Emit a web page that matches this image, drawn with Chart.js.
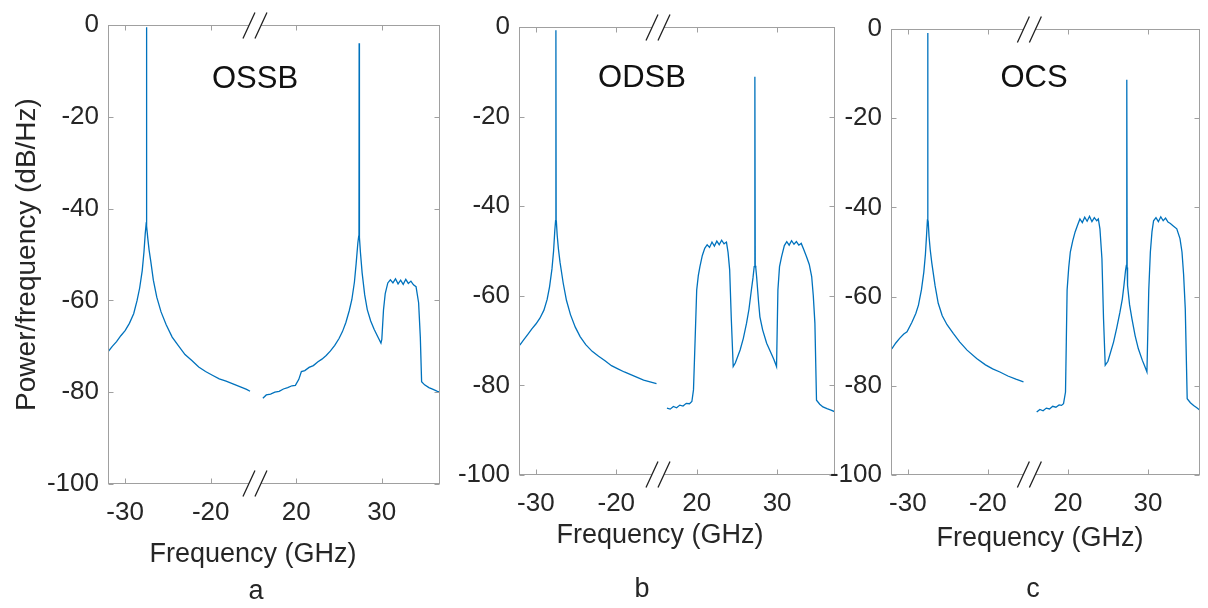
<!DOCTYPE html>
<html>
<head>
<meta charset="UTF-8">
<title>OSSB / ODSB / OCS spectra</title>
<script src="https://cdn.jsdelivr.net/npm/chart.js"></script>
<style>
  body { margin: 0; background: #fff; font-family: "Liberation Sans", Arial, sans-serif; }
  #wrap { position: relative; width: 1208px; height: 608px; overflow: hidden; background: #fff; }
  canvas { position: absolute; left: 0; top: 0; }
  .lbl { position: absolute; transform: translateX(-50%); white-space: nowrap; line-height: 1; color: #262626; }
  .name { color: #111; font-size: 31px; }
  .xt { font-size: 27px; }
</style>
</head>
<body>
<div id="wrap">
  <canvas id="chartA" width="1208" height="608"></canvas>
  <canvas id="chartB" width="1208" height="608"></canvas>
  <canvas id="chartC" width="1208" height="608"></canvas>

  <div class="lbl name" style="left:255px; top:62px;">OSSB</div>
  <div class="lbl name" style="left:642px; top:61px;">ODSB</div>
  <div class="lbl name" style="left:1034px; top:61px;">OCS</div>

  <div class="lbl xt" style="left:253px; top:540px;">Frequency (GHz)</div>
  <div class="lbl xt" style="left:660px; top:521px;">Frequency (GHz)</div>
  <div class="lbl xt" style="left:1040px; top:524px;">Frequency (GHz)</div>

  <div class="lbl xt" style="left:256px; top:577px;">a</div>
  <div class="lbl xt" style="left:642px; top:575px;">b</div>
  <div class="lbl xt" style="left:1033px; top:575px;">c</div>
</div>

<script>
// x tick labels (GHz) and y ticks (dB/Hz)
const xTickFreqs = [-30, -20, 20, 30];
const yTicks = [0, -20, -40, -60, -80, -100];

// OSSB spectrum, negative side and positive side
const ossbLeftF = [-32, -31.5, -31, -30.5, -30, -29.5, -29, -28.6, -28.3, -28.0, -27.8, -27.65, -27.55, -27.52, -27.5, -27.48,
  -27.45, -27.35, -27.2, -27.0, -26.7, -26.3, -25.8, -25.2, -24.5, -23.8, -23, -22.2, -21.4, -20.6, -19.8, -19, -18.2, -17.4, -16.6, -15.8, -15.4];
const ossbLeftP = [-71.2, -70.0, -69.0, -67.7, -66.6, -65.0, -62.9, -60.0, -57.3, -53.5, -49.5, -45.5, -43.5, -43.3, -0.5, -43.5,
  -43.8, -46.5, -49.0, -51.5, -55.6, -59.3, -62.5, -65.3, -68.0, -69.8, -71.8, -73.1, -74.5, -75.5, -76.3, -77.1, -77.6, -78.2, -78.8, -79.4, -79.8];
const ossbRightF = [16.1, 16.5, 17, 17.5, 18, 18.5, 19, 19.5, 19.9, 20.3, 20.6, 21, 21.5, 22, 22.5, 23, 23.5, 24, 24.5, 25, 25.4, 25.8,
  26.2, 26.5, 26.8, 27.0, 27.2, 27.3, 27.33, 27.35, 27.37, 27.4, 27.5, 27.7, 28.0, 28.3, 28.7, 29.1, 29.5, 29.9, 30.0, 30.2, 30.4, 30.7,
  31, 31.3, 31.6, 31.9, 32.2, 32.5, 32.8, 33.1, 33.4, 33.7, 34.0, 34.3, 34.5, 34.65, 35.0, 35.5, 36, 36.5, 37];
const ossbRightP = [-81.3, -80.6, -80.4, -80.0, -79.8, -79.3, -79.0, -78.6, -78.5, -77.2, -75.5, -75.3, -74.6, -74.2, -73.4, -72.8, -72.0, -71.0, -69.8, -68.3, -66.8, -64.8,
  -62.2, -59.8, -56.0, -52.0, -47.5, -46.0, -45.8, -4.0, -45.9, -46.3, -49.5, -54.0, -58.8, -62.0, -64.5, -66.3, -67.8, -69.3, -68.5, -62.0, -58.5, -56.2,
  -55.5, -56.2, -55.3, -56.4, -55.6, -56.5, -55.4, -56.3, -55.8, -56.6, -57.0, -60.5, -68.0, -77.7, -78.4, -79.0, -79.4, -79.8, -80.1];

// ODSB spectrum
const odsbLeftF = [-32, -31.5, -31, -30.5, -30, -29.5, -29, -28.6, -28.3, -28.0, -27.8, -27.65, -27.55, -27.52, -27.5, -27.48,
  -27.45, -27.35, -27.2, -27.0, -26.6, -26.2, -25.7, -25.1, -24.5, -23.8, -23, -22.2, -21.4, -20.6, -19.8, -19, -18.2, -17.4, -16.6, -15.8, -15.0];
const odsbLeftP = [-71.0, -69.8, -68.6, -67.4, -66.3, -65.0, -63.2, -60.8, -58.0, -54.0, -50.0, -45.5, -43.2, -43.0, -0.7, -43.2,
  -43.5, -46.5, -49.5, -52.5, -57.2, -61.0, -64.2, -67.0, -69.1, -70.9, -72.4, -73.5, -74.5, -75.6, -76.3, -77.0, -77.6, -78.2, -78.8, -79.2, -79.6];
const odsbRightF = [16.3, 16.7, 17.1, 17.5, 17.9, 18.3, 18.7, 19.1, 19.4, 19.6, 19.8, 20.0, 20.2, 20.4, 20.7, 21.0, 21.3, 21.6, 21.9,
  22.2, 22.5, 22.8, 23.1, 23.4, 23.7, 23.9, 24.1, 24.3, 24.54, 24.8, 25.4, 25.8, 26.2, 26.5, 26.8, 27.0, 27.15, 27.22, 27.25, 27.28,
  27.35, 27.45, 27.7, 27.86, 28.2, 28.7, 29.2, 29.6, 29.93, 30.1, 30.3, 30.55, 30.9, 31.2, 31.5, 31.8, 32.1, 32.4, 32.7, 33.0, 33.3,
  33.66, 34.0, 34.3, 34.5, 34.7, 34.9, 35.3, 35.7, 36.2, 36.7, 37.2];
const odsbRightP = [-85.1, -85.3, -84.7, -85.0, -84.4, -84.6, -84.0, -84.1, -83.6, -81.0, -70.0, -58.7, -55.5, -53.5, -51.0, -49.4, -48.6, -49.2, -48.0,
  -48.9, -47.8, -48.6, -47.6, -48.4, -48.0, -50.3, -54.2, -65.0, -75.8, -75.0, -72.1, -69.5, -66.1, -63.0, -58.7, -56.0, -53.5, -53.2, -11.1, -53.3,
  -53.8, -55.7, -61.5, -64.7, -67.6, -70.6, -72.6, -74.2, -75.8, -58.7, -53.5, -51.3, -48.8, -47.9, -48.7, -47.7, -48.5, -47.9, -48.7, -48.3, -49.6,
  -51.3, -53.0, -55.7, -60.0, -66.1, -83.3, -84.2, -84.8, -85.2, -85.5, -85.9];

// OCS spectrum
const ocsLeftF = [-32, -31.5, -31, -30.5, -30.1, -29.5, -29, -28.67, -28.3, -28.0, -27.8, -27.65, -27.55, -27.52, -27.5, -27.48,
  -27.45, -27.35, -27.2, -27.0, -26.6, -26.2, -25.7, -25.1, -24.3, -23.5, -22.6, -21.4, -20.3, -19.4, -18.5, -17.5, -16.5, -15.55];
const ocsLeftP = [-71.7, -70.4, -69.3, -68.4, -67.9, -65.8, -63.8, -61.9, -58.5, -54.5, -50.5, -46.0, -42.8, -42.6, -0.9, -42.8,
  -43.2, -46.5, -49.5, -52.5, -57.5, -61.5, -64.3, -66.3, -68.3, -70.2, -72.0, -73.9, -75.3, -76.2, -76.9, -77.8, -78.5, -79.1];
const ocsRightF = [16.1, 16.5, 16.9, 17.3, 17.7, 18.1, 18.5, 18.9, 19.2, 19.45, 19.7, 19.8, 19.9, 20.1, 20.3, 20.6, 20.9, 21.2, 21.5,
  21.8, 22.1, 22.4, 22.7, 23.0, 23.3, 23.6, 23.8, 24.0, 24.25, 24.45, 24.66, 25.0, 25.7, 26.1, 26.5, 26.8, 27.0, 27.2, 27.3, 27.34,
  27.37, 27.4, 27.45, 27.7, 28.0, 28.4, 28.8, 29.3, 29.6, 29.87, 30.1, 30.3, 30.5, 30.7, 31.0, 31.3, 31.6, 31.9, 32.2, 32.5, 32.8,
  33.2, 33.6, 34.0, 34.25, 34.45, 34.66, 34.9, 35.3, 35.7, 36.1, 36.5, 37];
const ocsRightP = [-85.9, -85.3, -85.6, -85.0, -85.2, -84.6, -84.8, -84.3, -84.4, -84.0, -81.4, -70.0, -58.5, -53.5, -50.0, -47.5, -45.5, -44.0, -42.6,
  -43.4, -42.2, -43.1, -42.0, -43.2, -42.3, -43.0, -42.6, -44.8, -51.5, -65.0, -75.4, -74.5, -70.2, -67.0, -63.5, -60.5, -57.5, -54.1, -53.0, -52.8,
  -11.4, -53.5, -57.5, -61.8, -65.0, -68.8, -71.7, -74.3, -75.6, -76.9, -58.5, -50.0, -45.5, -43.0, -42.3, -43.2, -42.1, -43.0, -42.4, -43.3, -43.6,
  -44.2, -44.8, -47.0, -50.0, -55.0, -62.7, -82.9, -83.8, -84.4, -84.9, -85.5, -85.8];

// broken x axis: -15 GHz and +15 GHz meet at axis position 0
const toAxis = f => (f < 0 ? f + 15 : f - 15);
const fromAxis = u => (u < 0 ? u - 15 : u + 15);

const lineColor = '#0072BD';
const font = '"Liberation Sans", Arial, sans-serif';

const frame = {
  id: 'frame',
  afterDraw(chart) {
    const {ctx, chartArea: a, scales: {x, y}} = chart;
    const L = Math.round(a.left) + 0.5, R = Math.round(a.right) - 0.5;
    const T = Math.round(a.top) + 0.5, B = Math.round(a.bottom) - 0.5;
    ctx.save();
    ctx.strokeStyle = '#a0a0a0';
    ctx.lineWidth = 1;
    ctx.strokeRect(L, T, R - L, B - T);
    ctx.beginPath();
    x.ticks.forEach(t => {
      const px = Math.round(x.getPixelForValue(t.value)) + 0.5;
      ctx.moveTo(px, B); ctx.lineTo(px, B - 5);
      ctx.moveTo(px, T); ctx.lineTo(px, T + 5);
    });
    y.ticks.forEach(t => {
      const py = Math.round(y.getPixelForValue(t.value)) + 0.5;
      ctx.moveTo(L, py); ctx.lineTo(L + 5, py);
      ctx.moveTo(R, py); ctx.lineTo(R - 5, py);
    });
    ctx.stroke();
    // axis break marks
    const cx = x.getPixelForValue(0) + 1.5;
    [T, B].forEach(yy => {
      ctx.fillStyle = '#fff';
      ctx.fillRect(cx - 6, yy - 1.5, 12, 3);
      ctx.strokeStyle = '#222';
      ctx.lineWidth = 1.3;
      ctx.beginPath();
      [-6, 6].forEach(dx => {
        ctx.moveTo(cx + dx - 6, yy + 13);
        ctx.lineTo(cx + dx + 6, yy - 13);
      });
      ctx.stroke();
    });
    ctx.restore();
  }
};

function pts(fs, ps) {
  return fs.map((f, i) => ({x: toAxis(f), y: ps[i]}));
}

function makePanel(id, lf, lp, rf, rp, area, xMin, xMax, yTitle) {
  const yW = yTitle ? area.left : 80;
  const xH = 60;
  new Chart(document.getElementById(id), {
    type: 'line',
    data: {
      datasets: [
        {data: pts(lf, lp)},
        {data: pts(rf, rp)}
      ]
    },
    options: {
      responsive: false,
      animation: false,
      parsing: false,
      elements: {
        line: {borderColor: lineColor, borderWidth: 1.3, tension: 0},
        point: {radius: 0}
      },
      layout: {
        padding: {left: area.left - yW, right: 1208 - area.right, top: area.top, bottom: 608 - area.bottom - xH}
      },
      plugins: {legend: {display: false}, tooltip: {enabled: false}},
      scales: {
        x: {
          type: 'linear',
          min: xMin,
          max: xMax,
          grid: {display: false, drawTicks: false},
          border: {display: false},
          afterBuildTicks: s => { s.ticks = xTickFreqs.map(f => ({value: toAxis(f)})); },
          afterFit: s => { s.height = xH; },
          ticks: {
            padding: 13,
            color: '#262626',
            font: {family: font, size: 26},
            maxRotation: 0,
            callback: v => String(fromAxis(v))
          }
        },
        y: {
          min: -100,
          max: 0,
          grid: {display: false, drawTicks: false},
          border: {display: false},
          afterBuildTicks: s => { s.ticks = yTicks.map(v => ({value: v})); },
          afterFit: s => { s.width = yW; },
          ticks: {padding: 9, color: '#262626', font: {family: font, size: 26}},
          title: {
            display: !!yTitle,
            text: yTitle || '',
            color: '#262626',
            font: {family: font, size: 28},
            padding: {top: 10, bottom: 0}
          }
        }
      }
    },
    plugins: [frame]
  });
}

makePanel('chartA', ossbLeftF, ossbLeftP, ossbRightF, ossbRightP,
  {left: 108, right: 440, top: 25, bottom: 484}, -17, 21.8, 'Power/frequency (dB/Hz)');
makePanel('chartB', odsbLeftF, odsbLeftP, odsbRightF, odsbRightP,
  {left: 519, right: 835, top: 27, bottom: 475}, -17.1, 22.2, null);
makePanel('chartC', ocsLeftF, ocsLeftP, ocsRightF, ocsRightP,
  {left: 891, right: 1200, top: 29, bottom: 475}, -17.1, 21.5, null);
</script>
</body>
</html>
